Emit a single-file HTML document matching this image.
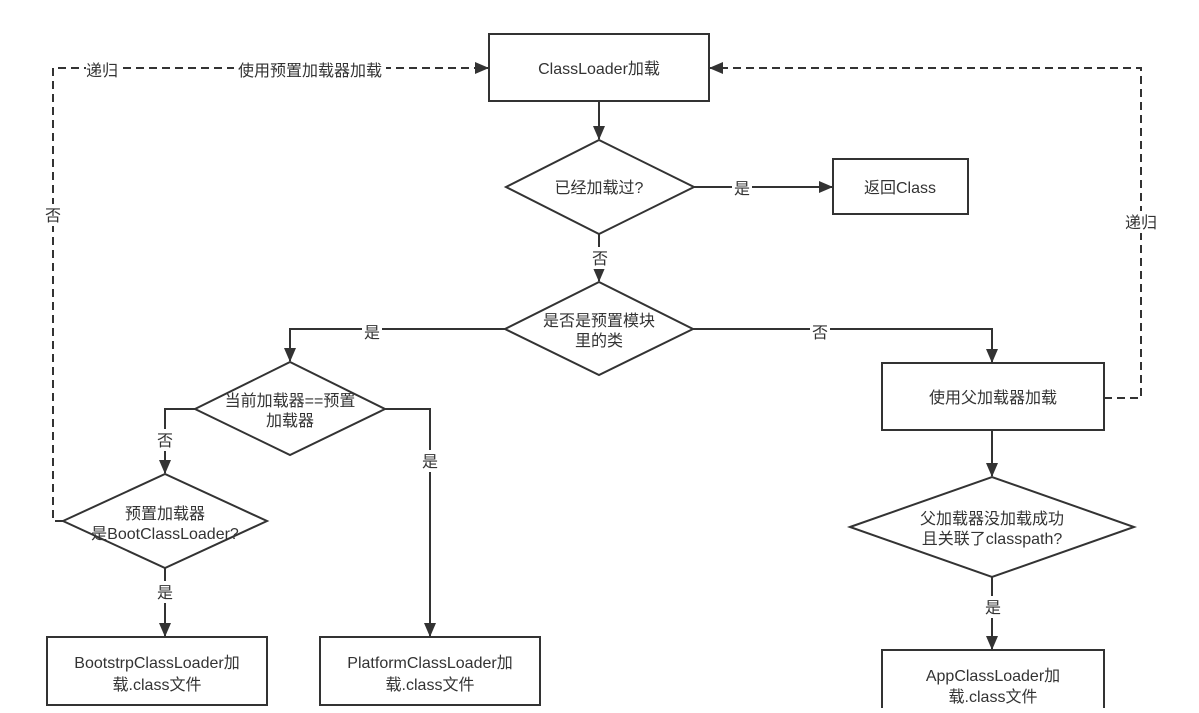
<!DOCTYPE html>
<html><head><meta charset="utf-8"><style>
body{margin:0;background:#fff;}
svg text{font-family:"Liberation Sans","Noto Sans CJK SC",sans-serif;font-size:16px;fill:#333;}
</style></head><body>
<svg width="1199" height="708" viewBox="0 0 1199 708" xmlns="http://www.w3.org/2000/svg">
<defs><marker id="a" markerWidth="14" markerHeight="12" refX="13" refY="6" orient="auto" markerUnits="userSpaceOnUse"><path d="M0,0 L14,6 L0,12 z" fill="#333"/></marker></defs>
<g stroke="#333" stroke-width="2" fill="#fff">
<rect x="489" y="34" width="220" height="67"/>
<polygon points="506,187 599,140 694,187 599,234"/>
<rect x="833" y="159" width="135" height="55"/>
<polygon points="505,329 599,282 693,329 599,375"/>
<rect x="882" y="363" width="222" height="67"/>
<polygon points="195,409 290,362 385,409 290,455"/>
<polygon points="63,521 165,474 267,521 165,568"/>
<rect x="47" y="637" width="220" height="68"/>
<rect x="320" y="637" width="220" height="68"/>
<polygon points="850,527 992,477 1134,527 992,577"/>
<rect x="882" y="650" width="222" height="70"/>
</g>
<g stroke="#333" stroke-width="2" fill="none">
<path d="M599,101 V139" marker-end="url(#a)"/>
<path d="M694,187 H832" marker-end="url(#a)"/>
<path d="M599,234 V281" marker-end="url(#a)"/>
<path d="M505,329 H290 V361" marker-end="url(#a)"/>
<path d="M693,329 H992 V362" marker-end="url(#a)"/>
<path d="M195,409 H165 V473" marker-end="url(#a)"/>
<path d="M385,409 H430 V636" marker-end="url(#a)"/>
<path d="M165,568 V636" marker-end="url(#a)"/>
<path d="M992,430 V476" marker-end="url(#a)"/>
<path d="M992,577 V649" marker-end="url(#a)"/>
<g stroke-dasharray="8,5">
<path d="M63,521 H53 V68 H488" marker-end="url(#a)"/>
<path d="M1104,398 H1141 V68 H710" marker-end="url(#a)"/>
</g>
</g>
<g fill="#fff">
<rect x="86" y="60" width="32" height="20"/><rect x="234" y="60" width="152" height="20"/>
<rect x="44" y="204" width="18" height="22"/><rect x="1124" y="211" width="36" height="22"/>
<rect x="732" y="177" width="20" height="22"/><rect x="590" y="247" width="20" height="22"/>
<rect x="362" y="321" width="20" height="22"/><rect x="810" y="321" width="20" height="22"/>
<rect x="155" y="429" width="20" height="22"/><rect x="420" y="450" width="20" height="22"/>
<rect x="155" y="581" width="20" height="22"/><rect x="982" y="596" width="22" height="22"/>
</g>
<g text-anchor="middle">
<text x="102" y="76">递归</text><text x="310" y="76">使用预置加载器加载</text>
<text x="53" y="221">否</text><text x="1141" y="228">递归</text>
<text x="599" y="74">ClassLoader加载</text>
<text x="599" y="193">已经加载过?</text>
<text x="742" y="194">是</text>
<text x="900" y="193">返回Class</text>
<text x="600" y="264">否</text>
<text x="599" y="326">是否是预置模块</text><text x="599" y="346">里的类</text>
<text x="372" y="338">是</text><text x="820" y="338">否</text>
<text x="993" y="403">使用父加载器加载</text>
<text x="290" y="406">当前加载器==预置</text><text x="290" y="426">加载器</text>
<text x="165" y="446">否</text><text x="430" y="467">是</text>
<text x="165" y="519">预置加载器</text><text x="165" y="539">是BootClassLoader?</text>
<text x="165" y="598">是</text>
<text x="157" y="668">BootstrpClassLoader加</text><text x="157" y="690">载.class文件</text>
<text x="430" y="668">PlatformClassLoader加</text><text x="430" y="690">载.class文件</text>
<text x="992" y="524">父加载器没加载成功</text><text x="992" y="544">且关联了classpath?</text>
<text x="993" y="613">是</text>
<text x="993" y="681">AppClassLoader加</text><text x="993" y="702">载.class文件</text>
</g>
</svg>
</body></html>
